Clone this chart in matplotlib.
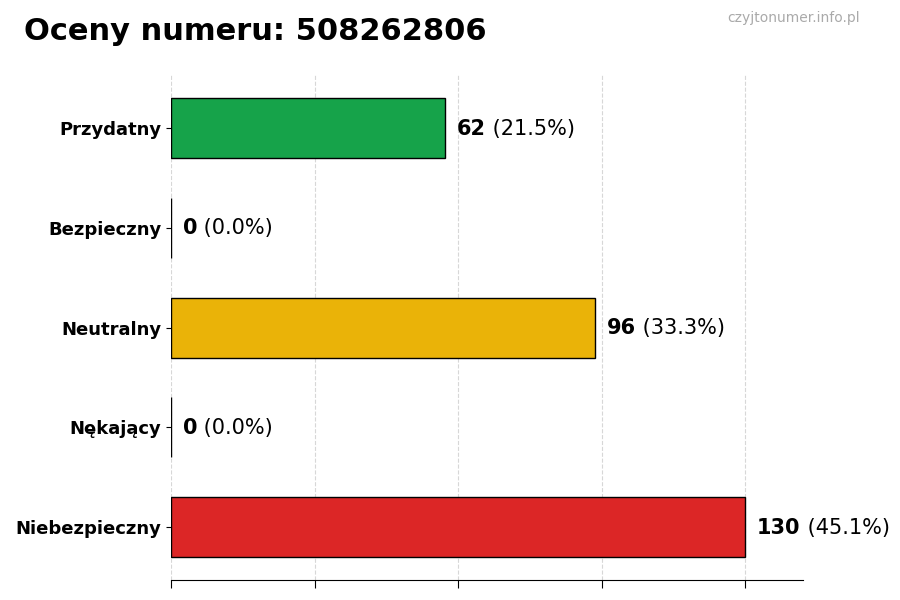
import matplotlib
matplotlib.use("Agg")
import matplotlib.pyplot as plt
import numpy as np

categories = ["Przydatny", "Bezpieczny", "Neutralny", "Nękający", "Niebezpieczny"]
counts = [62, 0, 96, 0, 130]
colors = ["#16a34a", "#9ca3af", "#eab308", "#f97316", "#dc2626"]
number = "508262806"

total = sum(counts)
pos = np.arange(len(categories))[::-1]

fig = plt.figure(figsize=(9, 6), dpi=100)
ax = fig.add_axes([0.19, 0.033, 0.702, 0.842])

ax.barh(pos, counts, height=0.6, color=colors, edgecolor="black", linewidth=1, zorder=2)
ax.set_yticks(pos)
ax.set_yticklabels(categories, fontsize=13, fontweight="bold")

xmax = max(counts)
ax.set_xlim(0, xmax * 1.1)
ax.set_xticks(np.linspace(0, xmax, 5))
ax.set_xticklabels([])
ax.tick_params(axis="x", length=6)
ax.grid(axis="x", linestyle="--", alpha=0.5, zorder=3)

for s in ["top", "right", "left"]:
    ax.spines[s].set_visible(False)

for y, c in zip(pos, counts):
    pct = c / total * 100
    t = ax.annotate(f"{c}", (c, y), xytext=(8.5, -0.5), textcoords="offset points",
                    va="center", ha="left", fontsize=15, fontweight="bold")
    ax.annotate(f" ({pct:.1f}%)", xy=(1, 0.5), xycoords=t,
                va="center", ha="left", fontsize=15)

fig.text(0.027, 0.948, f"Oceny numeru: {number}", fontsize=22, fontweight="bold",
         ha="left", va="center")
fig.text(0.955, 0.97, "czyjtonumer.info.pl", fontsize=10, color="#aaaaaa",
         ha="right", va="center")

plt.savefig("out.png", dpi=100)
plt.close(fig)
